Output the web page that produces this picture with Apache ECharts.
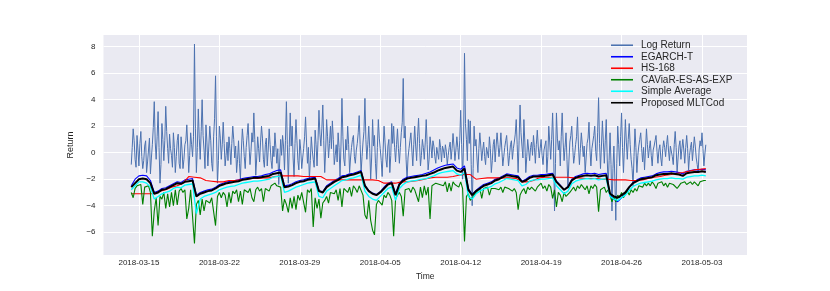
<!DOCTYPE html>
<html>
<head>
<meta charset="utf-8">
<script src="https://cdn.jsdelivr.net/npm/echarts@6/dist/echarts.min.js"></script>
<style>
html,body{margin:0;padding:0;background:#fff;}
#chart{width:830px;height:291px;}
</style>
</head>
<body>
<div id="chart"></div>
<script>
// ---- data ----
const seriesNames = ['Log Return', 'EGARCH-T', 'HS-168', 'CAViaR-ES-AS-EXP', 'Simple Average', 'Proposed MLTCod'];
const xTickLabels = ['2018-03-15', '2018-03-22', '2018-03-29', '2018-04-05', '2018-04-12', '2018-04-19', '2018-04-26', '2018-05-03'];
const yTickValues = [-6, -4, -2, 0, 2, 4, 6, 8];
const startTime = '2018-03-14T08:00:00Z';

// 2-hour samples
const logReturn = [
 -0.9, 0.4, 1.8, 0.9, -0.5, -1.1, 1.3, 0.2, -1.0, 0.7, 1.6, -0.3, -1.2, -0.6, 0.5, 0.9, -1.5, -0.7, 0.2, 1.1,
 -1.6, -0.4, 0.6, 1.9, 3.85, 0.8, -0.5, 1.2, 3.1, 0.4, -2.3, -0.9, 2.2, 1.0, -0.6, 0.9, 3.5, 1.6, 0.3, -0.8,
 1.4, 0.3, -0.2, -1.1, 1.5, 0.4, -1.5, -0.3, 0.9, 1.4, -0.8, -1.2, 1.2, 0.2, -1.2, -0.5, 0.6, 0.9, 2.1, 0.5,
 -1.5, -0.2, 1.5, 0.6, -0.3, 1.2, 8.2, 1.8, -1.5, 0.4, 3.3, 1.1, -0.5, 1.6, 4.0, 1.3, 0.2, -1.2, 2.1, 0.8,
 -1.0, 0.5, 2.0, 0.9, -0.8, -1.4, 1.2, 2.6, 5.8, 1.2, -2.3, -0.6, 2.0, 1.1, -0.5, 0.6, 2.3, 0.7, -1.0, -0.2,
 0.8, -0.6, 1.2, 0.3, -0.9, 0.7, 2.0, 1.0, -0.4, 0.5, -1.5, -0.5, 0.9, -0.8, -2.0, 0.2, 1.8, 0.9, -0.3, -1.2,
 0.4, 1.3, 2.2, 0.5, -0.9, 0.1, 1.5, 0.8, 3.0, 1.0, -1.7, -0.4, 1.2, 0.3, -0.7, 0.8, 2.0, 1.1, -0.5, -1.1,
 0.6, 1.1, -1.0, 0.2, 1.8, 0.6, -0.6, -1.2, 0.5, -0.3, 1.5, 0.4, -0.8, 0.3, -2.4, -0.7, 1.0, -0.2, 1.3, 0.5,
 -1.3, 0.9, 3.85, 0.6, -2.3, 0.4, 3.0, 0.5, 2.0, -0.4, -1.8, 0.7, 2.5, 0.9, -0.6, -1.3, 1.0, 0.2, -1.2, -0.4,
 0.3, 1.2, 2.7, 0.8, -0.8, 0.4, -2.0, -0.6, 1.2, 0.2, -0.5, -1.1, 1.7, 0.6, -1.0, 0.9, 3.2, 1.4, 0.5, 1.8,
 3.6, 0.9, -1.5, 0.2, 2.5, 1.2, -0.4, 0.7, 2.0, 0.3, 2.4, 1.0, -0.9, -0.2, 0.6, -0.7, 1.5, 0.4, -1.8, 0.5,
 4.1, 1.2, -0.5, -1.0, 1.0, 0.2, 2.0, 0.6, -1.5, -0.4, 0.4, 1.0, 1.3, -0.3, -0.8, 0.2, 0.7, 1.5, 2.8, 0.6,
 -1.5, -0.3, 0.8, 1.6, 4.1, 1.0, -0.5, 0.6, 2.0, 0.3, -2.0, -0.4, 2.5, 0.5, 1.3, -0.8, -2.0, 0.4, 2.5, 1.1,
 0.3, -0.6, -1.8, 0.2, 2.0, 0.8, -0.5, -1.1, 0.5, 1.0, -1.5, -0.2, 2.2, 0.7, 2.0, 0.4, -0.7, 0.6, 1.8, 0.3,
 -0.8, 0.4, 1.5, 2.3, 5.6, 1.1, 2.0, -0.5, -2.0, -0.4, 0.3, 0.9, 1.5, 0.2, -1.0, 0.6, 2.0, 0.5, -0.6, 1.2,
 2.6, 0.7, -1.0, -0.2, 1.0, 0.4, -0.5, 0.8, 2.5, 0.6, -1.3, -0.5, 1.2, 0.5, -0.4, 0.9, 0.5, -0.3, -0.8, 0.4,
 0.3, -0.5, 1.0, 0.4, -0.7, 0.5, 0.2, -0.4, 0.6, 0.1, -0.9, -0.2, 0.4, 0.8, -0.5, 0.3, 1.45, 0.5, -0.6, 0.2,
 1.2, 0.4, -0.5, 0.9, 3.2, 0.6, -2.0, 0.8, 7.5, 2.2, 1.0, -0.6, 2.5, 0.7, 2.4, -0.9, -4.0, -1.2, 2.0, 0.5,
 1.0, -0.4, -1.5, 0.3, 1.5, 0.5, -0.6, 0.2, 0.8, -0.3, -0.9, 0.4, 0.5, -0.4, 1.2, 0.3, -1.5, -0.6, 0.6, 1.0,
 -0.7, 0.5, 1.5, 0.6, -0.3, 0.4, 1.5, 0.2, -1.0, -0.3, 0.4, 0.9, 1.3, 0.1, -1.0, -0.2, 0.6, 0.9, -0.5, 0.3,
 0.8, 1.4, 2.5, 0.6, -1.5, 0.9, 3.6, 1.5, 0.5, -0.4, 2.5, 0.8, -1.5, -0.3, 1.0, 0.2, -0.6, 0.4, 0.8, -0.2,
 1.3, 0.4, -0.8, 0.6, 1.7, 0.5, -0.4, 0.3, 1.0, -0.2, -0.9, 0.2, 0.3, 0.9, -1.5, -0.3, 2.0, 0.8, -0.5, 1.0,
 3.0, 0.5, -4.4, -0.8, 3.0, 1.1, 0.2, 0.9, -1.0, 1.2, 3.0, 0.8, -0.6, 0.4, 1.5, -0.5, -2.6, -0.7, 0.8, 1.3,
 2.0, 0.4, -0.8, -0.2, 0.6, 1.2, 2.7, 0.5, -0.9, 0.3, 1.5, 0.6, -0.3, 0.5, -1.5, -0.4, 0.7, 1.1, 2.3, 0.2,
 -1.0, 0.3, 0.8, 1.3, 2.0, 0.1, -0.6, 1.5, 4.15, 0.7, -1.2, 0.5, 2.4, 0.8, -0.8, 0.9, 2.5, -0.4, -2.5, -0.6,
 1.5, -0.9, -4.4, -1.2, 0.5, -2.0, -5.1, -0.8, 2.0, 0.6, -1.0, 1.2, 3.0, 0.4, -1.5, 0.5, 2.5, 0.8, -0.5, 1.0,
 2.2, 0.6, -0.5, -1.2, -2.5, -0.3, 1.8, 0.4, -1.5, -0.2, 0.5, 1.0, 1.5, 0.3, -0.7, 0.4, -1.3, 0.2, 1.8, 0.6,
 -0.4, 0.3, 0.9, -0.2, -1.0, 0.2, 0.5, 0.9, 1.3, 0.1, -0.8, 0.2, 0.6, -0.4, -1.0, 0.3, 0.9, 0.4, -0.3, 0.6,
 1.3, 0.2, -0.6, 0.5, 0.4, -0.3, -0.9, 0.6, 1.6, 0.4, -1.5, -0.4, 0.5, 0.9, -0.5, 0.3, 1.0, 0.2, -0.8, 0.4,
 1.3, 0.3, -1.3, -0.2, 0.4, 0.8, -0.6, 0.3, 1.2, 0.5, -0.4, -0.9, -1.5, 0.2, 0.9, 0.5, 1.5, 0.3, -1.0, -0.1, 0.6
];

// 4-hour samples
const caviar = [
 -3.0, -3.4, -2.7, -2.5, -2.6, -2.4, -3.9, -2.6, -2.7, -2.5,
 -3.0, -6.3, -4.4, -3.4, -5.5, -3.3, -3.5, -3.0, -4.2, -3.1,
 -4.1, -3.0, -4.0, -2.8, -3.95, -2.9, -2.7, -3.0, -2.8, -5.0,
 -4.2, -2.8, -2.9, -6.85, -3.9, -3.6, -4.7, -3.5, -4.4, -3.6,
 -3.5, -3.8, -3.4, -3.3, -5.5, -3.3, -3.0, -3.4, -3.0, -3.2,
 -4.1, -3.0, -3.8, -2.9, -3.1, -2.8, -3.7, -2.9, -3.9, -2.8,
 -2.7, -3.0, -2.7, -3.4, -3.7, -2.8, -2.6, -2.9, -2.7, -3.7,
 -2.7, -2.6, -2.9, -2.5, -2.6, -2.3, -2.5, -2.4, -2.6, -4.4,
 -3.5, -3.9, -4.5, -3.4, -4.2, -3.3, -4.3, -3.2, -3.6, -3.0,
 -2.9, -4.5, -2.8, -3.0, -2.7, -5.6, -3.4, -4.2, -3.5, -4.95,
 -3.8, -3.6, -3.3, -3.8, -3.0, -2.9, -3.1, -2.8, -3.6, -2.7,
 -4.1, -2.7, -2.6, -3.0, -2.6, -3.3, -2.5, -2.7, -3.0, -2.5,
 -2.4, -3.2, -4.7, -5.0, -3.6, -5.1, -5.85, -6.2, -3.9, -3.6,
 -3.5, -3.95, -3.2, -3.4, -3.0, -3.2, -3.6, -6.3, -3.5, -3.2,
 -3.0, -3.3, -4.8, -2.8, -2.9, -2.7, -3.0, -2.6, -2.8, -2.7,
 -3.7, -2.6, -3.4, -2.5, -3.2, -2.6, -5.0, -2.5, -2.4, -2.3,
 -2.2, -2.4, -2.3, -2.5, -2.2, -2.95, -2.3, -2.9, -2.2, -2.4,
 -2.3, -2.6, -2.2, -2.7, -6.7, -3.3, -3.1, -3.6, -3.4, -3.2,
 -3.0, -2.9, -2.7, -3.45, -2.7, -2.8, -2.6, -3.2, -2.7, -2.6,
 -2.7, -2.6, -2.8, -2.6, -3.0, -2.6, -2.5, -2.7, -2.6, -2.9,
 -2.7, -3.0, -4.3, -3.2, -2.9, -2.7, -3.1, -2.6, -2.8, -2.6,
 -2.5, -2.9, -2.6, -2.5, -2.3, -2.7, -2.5, -2.9, -2.4, -2.6,
 -3.45, -2.8, -4.1, -3.0, -3.2, -3.7, -3.0, -3.3, -3.4, -3.0,
 -2.8, -2.6, -2.9, -2.5, -2.7, -2.4, -2.6, -2.8, -2.5, -3.1,
 -2.5, -2.7, -2.4, -2.6, -4.45, -2.8, -2.9, -2.6, -3.0, -2.8,
 -3.2, -3.7, -3.3, -3.7, -3.2, -3.4, -3.0, -3.4, -3.1, -2.9,
 -3.2, -2.8, -3.0, -2.7, -2.9, -2.5, -2.4, -2.6, -2.3, -2.5,
 -2.3, -2.5, -2.2, -2.4, -2.7, -2.3, -2.4, -2.2, -2.5, -2.3,
 -2.6, -2.3, -2.2, -2.4, -2.3, -2.7, -2.5, -2.3, -2.4, -2.2,
 -2.4, -2.3, -2.2, -2.4, -2.2, -2.3, -2.5, -2.2, -2.3, -2.1, -2.1
];

// 8-hour samples
const egarch = [
 -2.5, -2.0, -1.75, -1.7, -1.75, -2.1, -3.0, -2.9, -2.7, -2.65,
 -2.5, -2.35, -2.2, -2.25, -2.05, -2.0, -1.95, -3.2, -3.0, -2.9,
 -2.8, -2.75, -2.6, -2.4, -2.3, -2.2, -2.15, -2.1, -2.05, -1.95,
 -1.9, -1.85, -1.8, -1.8, -1.75, -1.65, -1.6, -1.45, -1.35, -1.3,
 -2.5, -2.45, -2.35, -2.2, -2.1, -2.05, -1.95, -1.9, -1.85, -2.85,
 -2.95, -2.5, -2.3, -2.1, -1.95, -1.75, -1.7, -1.6, -1.55, -1.45,
 -1.35, -2.45, -2.85, -3.05, -3.15, -2.95, -2.6, -2.3, -2.2, -3.1,
 -2.3, -2.0, -1.85, -1.8, -1.75, -1.7, -1.65, -1.55, -1.45, -1.3,
 -1.15, -1.05, -0.95, -0.9, -0.85, -1.15, -1.25, -1.0, -2.7, -3.15,
 -2.85, -2.6, -2.4, -2.3, -2.2, -2.0, -1.9, -1.75, -1.6, -1.65,
 -1.7, -1.75, -2.15, -2.0, -1.8, -1.7, -1.7, -1.65, -1.65, -1.6,
 -1.55, -2.15, -2.45, -2.8, -2.55, -2.0, -1.8, -1.7, -1.6, -1.55,
 -1.6, -1.55, -1.65, -1.6, -1.55, -3.2, -3.5, -3.7, -3.4, -3.1,
 -2.6, -2.25, -2.05, -1.9, -1.85, -1.8, -1.75, -1.6, -1.5, -1.45,
 -1.45, -1.4, -1.45, -1.5, -1.6, -1.4, -1.35, -1.3, -1.3, -1.25, -1.3
];

// 12-hour samples
const hs168 = [
 -3.1, -3.1, -3.1, -3.1, -3.1, -2.9, -2.8, -2.6, -2.5, -2.3,
 -1.8, -1.85, -1.9, -2.1, -2.15, -2.2, -2.2, -2.1, -2.1, -2.05,
 -2.0, -1.95, -1.95, -1.9, -1.9, -1.8, -1.75, -1.75, -1.75, -1.75,
 -1.8, -1.8, -1.8, -1.8, -2.05, -2.05, -2.05, -2.05, -2.05, -2.05,
 -2.05, -2.05, -2.05, -2.1, -2.3, -2.3, -2.3, -2.2, -2.2, -2.15,
 -2.1, -2.0, -1.9, -1.85, -1.85, -1.85, -1.8, -1.7, -1.65, -1.65,
 -2.0, -1.95, -1.9, -1.9, -1.9, -1.9, -1.9, -1.95, -2.2, -2.2,
 -2.1, -1.9, -1.85, -1.85, -1.85, -1.85, -1.85, -1.9, -1.9, -1.95,
 -1.95, -1.95, -2.0, -2.0, -2.05, -2.05, -2.05, -2.1, -2.1, -2.05,
 -1.95, -1.85, -1.8, -1.7, -1.65, -1.55, -1.5, -1.4, -1.3, -1.25, -1.2
];

// 8-hour samples
const simpleAvg = [
 -2.8, -2.5, -2.2, -2.2, -2.3, -2.6, -3.5, -3.3, -3.1, -3.0,
 -2.9, -2.7, -2.6, -2.65, -2.45, -2.4, -2.35, -4.6, -3.5, -3.3,
 -3.2, -3.1, -3.0, -2.8, -2.7, -2.6, -2.55, -2.5, -2.4, -2.3,
 -2.25, -2.2, -2.15, -2.15, -2.1, -2.05, -2.0, -1.85, -1.8, -1.75,
 -3.0, -2.9, -2.75, -2.6, -2.5, -2.4, -2.3, -2.25, -2.2, -3.3,
 -3.4, -2.9, -2.7, -2.5, -2.3, -2.1, -2.05, -1.95, -1.9, -1.8,
 -1.7, -2.9, -3.3, -3.5, -3.6, -3.3, -3.0, -2.7, -2.6, -3.6,
 -2.7, -2.4, -2.2, -2.15, -2.1, -2.05, -2.0, -1.95, -1.85, -1.75,
 -1.6, -1.5, -1.45, -1.4, -1.35, -1.6, -1.7, -1.5, -3.3, -3.5,
 -3.1, -2.9, -2.75, -2.65, -2.55, -2.35, -2.25, -2.1, -1.95, -2.0,
 -2.05, -2.1, -2.5, -2.4, -2.15, -2.05, -2.05, -2.0, -2.0, -1.95,
 -1.9, -2.5, -2.8, -3.1, -2.9, -2.35, -2.15, -2.05, -2.0, -1.95,
 -2.0, -1.95, -2.05, -2.0, -1.95, -3.3, -3.5, -3.6, -3.4, -3.2,
 -2.85, -2.55, -2.4, -2.3, -2.25, -2.2, -2.15, -2.05, -2.0, -1.95,
 -1.95, -1.9, -1.95, -1.95, -2.0, -1.85, -1.8, -1.75, -1.75, -1.7, -1.75
];

// 8-hour samples
const mltcod = [
 -2.6, -2.3, -2.0, -1.95, -2.0, -2.3, -3.1, -3.0, -2.8, -2.75,
 -2.6, -2.45, -2.3, -2.35, -2.2, -2.15, -2.1, -3.3, -3.1, -3.0,
 -2.9, -2.85, -2.7, -2.5, -2.4, -2.3, -2.25, -2.2, -2.15, -2.05,
 -2.0, -1.95, -1.9, -1.9, -1.85, -1.8, -1.75, -1.6, -1.55, -1.5,
 -2.6, -2.55, -2.45, -2.3, -2.2, -2.15, -2.05, -2.0, -1.95, -2.9,
 -3.0, -2.6, -2.4, -2.2, -2.05, -1.85, -1.8, -1.7, -1.65, -1.55,
 -1.45, -2.5, -2.9, -3.1, -3.2, -3.0, -2.7, -2.4, -2.3, -3.2,
 -2.4, -2.1, -1.95, -1.9, -1.85, -1.8, -1.75, -1.7, -1.6, -1.5,
 -1.35, -1.25, -1.15, -1.1, -1.05, -1.35, -1.45, -1.2, -2.8, -3.2,
 -2.9, -2.7, -2.5, -2.4, -2.3, -2.1, -2.0, -1.85, -1.7, -1.75,
 -1.8, -1.85, -2.2, -2.1, -1.9, -1.8, -1.8, -1.75, -1.75, -1.7,
 -1.65, -2.2, -2.5, -2.8, -2.6, -2.1, -1.9, -1.8, -1.75, -1.7,
 -1.75, -1.7, -1.8, -1.75, -1.7, -3.1, -3.3, -3.4, -3.2, -3.0,
 -2.6, -2.3, -2.15, -2.0, -1.95, -1.9, -1.85, -1.7, -1.65, -1.6,
 -1.6, -1.55, -1.6, -1.65, -1.75, -1.55, -1.5, -1.45, -1.45, -1.4, -1.45
];

// ---- build ----
const HOUR = 3600000;
const t0 = Date.parse(startTime);
function toPairs(values, stepHours) {
  return values.map((v, i) => [t0 + i * stepHours * HOUR, v]);
}
const xTickValues = xTickLabels.map(s => Date.parse(s + 'T00:00:00Z'));
function pad(n) { return n < 10 ? '0' + n : '' + n; }
function fmtDate(v) {
  const d = new Date(v);
  return d.getUTCFullYear() + '-' + pad(d.getUTCMonth() + 1) + '-' + pad(d.getUTCDate());
}

const FONT = 'Liberation Sans, Arial, sans-serif';
const TXT = '#262626';
const colors = ['#4C72B0', '#0000FF', '#FF0000', '#008000', '#00FFFF', '#000000'];
const widths = [1.0, 1.1, 1.1, 1.1, 1.3, 2];
const datasets = [
  toPairs(logReturn, 2), toPairs(egarch, 8), toPairs(hs168, 12),
  toPairs(caviar, 4), toPairs(simpleAvg, 8), toPairs(mltcod, 8)
];

const chart = echarts.init(document.getElementById('chart'), null, { renderer: 'canvas' });
chart.setOption({
  animation: false,
  backgroundColor: '#ffffff',
  textStyle: { fontFamily: FONT },
  grid: { left: 103.5, right: 83, top: 35, bottom: 36, show: true, backgroundColor: '#EAEAF2', borderWidth: 0 },
  legend: {
    orient: 'vertical', left: 611, top: 39.5,
    icon: 'rect',
    itemWidth: 22, itemHeight: 1.6, itemGap: 0,
    padding: 0,
    textStyle: { fontSize: 10, color: TXT, fontFamily: FONT, lineHeight: 11.5, padding: [0, 0, 0, 3] },
    data: seriesNames
  },
  xAxis: {
    type: 'value',
    min: Date.UTC(2018, 2, 11, 22),
    max: Date.UTC(2018, 4, 6, 22),
    name: 'Time', nameLocation: 'middle', nameGap: 15,
    nameTextStyle: { fontSize: 8.5, color: TXT, fontFamily: FONT },
    axisLine: { show: false }, axisTick: { show: false, customValues: xTickValues },
    axisLabel: { customValues: xTickValues, formatter: fmtDate, fontSize: 8, color: TXT, margin: 4, fontFamily: FONT },
    splitLine: { show: true, lineStyle: { color: '#ffffff', width: 1 } }
  },
  yAxis: {
    type: 'value',
    min: -7.72, max: 8.88,
    name: 'Return', nameLocation: 'middle', nameGap: 25, nameRotate: 90,
    nameTextStyle: { fontSize: 9, color: TXT, fontFamily: FONT },
    axisLine: { show: false }, axisTick: { show: false, customValues: yTickValues },
    axisLabel: { customValues: yTickValues, formatter: v => (v < 0 ? '\u2212' + Math.abs(v) : '' + v), fontSize: 8, color: TXT, margin: 8, fontFamily: FONT },
    splitLine: { show: true, lineStyle: { color: '#ffffff', width: 1 } }
  },
  series: seriesNames.map((name, k) => ({
    name: name, type: 'line', data: datasets[k], symbol: 'none', showSymbol: false,
    color: colors[k], lineStyle: { color: colors[k], width: widths[k] },
    z: 2 + k, silent: true
  }))
});
</script>
</body>
</html>
